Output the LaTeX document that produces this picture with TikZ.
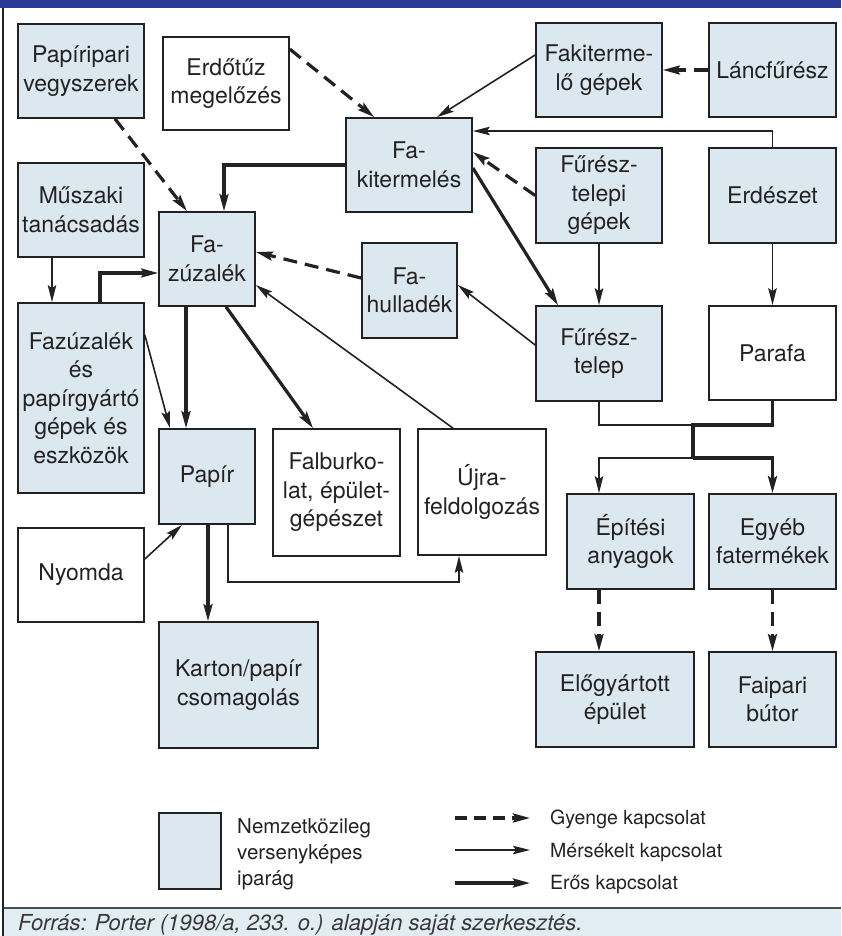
\documentclass[tikz,border=0pt]{standalone}
\usepackage{fontspec}
\setmainfont{TeX Gyre Heros}
\usetikzlibrary{arrows.meta,calc}
\definecolor{boxblue}{HTML}{DCE8EF}
\definecolor{band}{HTML}{2B3A97}
\definecolor{ink}{HTML}{222222}
\definecolor{foot}{HTML}{E2EDF3}
\tikzset{
 bx/.style={draw=ink, line width=1.7pt, fill=boxblue, align=center, inner sep=0pt, text=ink, font=\fontsize{23}{28.5}\selectfont},
 wbx/.style={bx, fill=white},
 nl/.style={draw=ink, line width=1.6pt},
 tkn/.style={draw=ink, line width=3.2pt},
 ln/.style={nl, -{Stealth[length=17pt,width=8.5pt,inset=3pt]}},
 tk/.style={tkn, -{Stealth[length=17pt,width=9pt,inset=3pt]}},
 dsh/.style={tk, dash pattern=on 14pt off 8pt},
 lab/.style={text=ink, inner sep=0pt, font=\fontsize{19.5}{26}\selectfont},
}
\begin{document}
\begin{tikzpicture}[x=1pt,y=-1pt]
\useasboundingbox (0,0) rectangle (841,936);
% frame, band, footer
\fill[band] (0,0) rectangle (841,8.5);
\fill[foot] (3,908) rectangle (841,936);
\draw[ink!80, line width=1.4pt] (3,908) -- (841,908);
\draw[ink, line width=1.7pt] (3,8.5) -- (3,936);
\node[lab, anchor=base west, text=ink!90, font=\fontsize{22}{26}\itshape] (src) at (18,930) {Forrás: Porter (1998/a, 233. o.) alapján saját szerkesztés.};
% boxes
\node[bx, minimum width=126pt, minimum height=94pt] (pv) at (81,71) {Papíripari\\vegyszerek};
\node[wbx, minimum width=126pt, minimum height=93pt] (ef) at (226,83.5) {Erdőtűz\\megelőzés};
\node[bx, minimum width=126pt, minimum height=94pt] (fk) at (409,165) {Fa-\\kitermelés};
\node[bx, minimum width=126pt, minimum height=94pt] (fg) at (599,70) {Fakiterme-\\lő gépek};
\node[bx, minimum width=127pt, minimum height=94pt] (lf) at (772.5,70) {Láncfűrész};
\node[bx, minimum width=126pt, minimum height=94pt] (mt) at (81,210) {Műszaki\\tanácsadás};
\node[bx, minimum width=96pt, minimum height=94pt] (fz) at (207,259) {Fa-\\zúzalék};
\node[bx, minimum width=95pt, minimum height=95pt] (fh) at (409.5,290.5) {Fa-\\hulladék};
\node[bx, minimum width=126pt, minimum height=95pt] (ftg) at (599,195.5) {Fűrész-\\telepi\\gépek};
\node[bx, minimum width=127pt, minimum height=95pt] (er) at (772.5,195.5) {Erdészet};
\node[bx, minimum width=126pt, minimum height=190pt] (zpg) at (81,398) {Fazúzalék\\és\\papírgyártó\\gépek és\\eszközök};
\node[bx, minimum width=126pt, minimum height=95pt] (fts) at (599,353.5) {Fűrész-\\telep};
\node[wbx, minimum width=127pt, minimum height=94pt] (pa) at (772.5,353) {Parafa};
\node[bx, minimum width=96pt, minimum height=95pt] (pp) at (207,476.5) {Papír};
\node[wbx, minimum width=127pt, minimum height=127pt] (fb) at (336.5,492.5) {Falburko-\\lat, épület-\\gépészet};
\node[wbx, minimum width=128pt, minimum height=126pt] (uj) at (482,492) {Újra-\\feldolgozás};
\node[wbx, minimum width=126pt, minimum height=94pt] (ny) at (81,575) {Nyomda};
\node[bx, minimum width=127pt, minimum height=95pt] (ea) at (630.5,541.5) {Építési\\anyagok};
\node[bx, minimum width=127pt, minimum height=95pt] (eg) at (772.5,541.5) {Egyéb\\fatermékek};
\node[bx, minimum width=159pt, minimum height=126pt] (kc) at (238.5,685) {Karton/papír\\csomagolás};
\node[bx, minimum width=158pt, minimum height=95pt] (eo) at (615,699.5) {Előgyártott\\épület};
\node[bx, minimum width=127pt, minimum height=95pt] (fbu) at (772.5,699.5) {Faipari\\bútor};
% connectors
\draw[dsh] ($(ef.north east)+(0,13)$) -- ($(fk.north west)+(29,0)$);
\draw[dsh] ($(pv.south)+(34,0)$) -- ($(fz.north)+(-20,0)$);
\draw[tk] (fk.west) -| ($(fz.north)+(17,0)$);
\draw[dsh] ($(fh.west)+(0,-12.5)$) -- ($(fz.east)+(0,-7)$);
\draw[ln] ($(uj.north)+(-29,0)$) -- ($(fz.east)+(0,26)$);
\draw[ln] ($(fts.west)+(0,-8.5)$) -- ($(fh.east)+(0,-5.5)$);
\draw[ln] ($(fg.west)+(0,-15)$) -- ($(fk.north)+(28,0)$);
\draw[dsh] (lf.west) -- (fg.east);
\draw[ln] (er.north) |- ($(fk.east)+(0,-34)$);
\draw[dsh] (ftg.west) -- ($(fk.east)+(0,-13)$);
\draw[tk] ($(fk.east)+(0,3)$) -- ($(fts.north)+(-41,0)$);
\draw[ln] (ftg.south) -- (fts.north);
\draw[ln] (er.south) -- (pa.north);
\coordinate (j1) at (693,425);
\coordinate (j2) at (693,458);
\draw[nl] (fts.south) |- (j1);
\draw[tkn] (pa.south) |- (j1) -- (j2);
\draw[ln] (j2) -| (fts.south |- ea.north);
\draw[tk] (j2) -| (eg.north);
\draw[dsh] (ea.south -| fts.south) -- (eo.north -| fts.south);
\draw[dsh] (eg.south) -- (fbu.north);
\draw[tk] ($(fz.south)+(-21,0)$) -- ($(pp.north)+(-21,0)$);
\draw[tk] ($(fz.south)+(19,0)$) -- ($(fb.north)+(-23.5,0)$);
\draw[ln] ($(zpg.east)+(0,-63)$) -- ($(pp.north)+(-37,0)$);
\draw[tk] ($(zpg.north)+(19,0)$) |- ($(fz.west)+(0,14)$);
\draw[ln] ($(mt.south)+(-29,0)$) -- ($(zpg.north)+(-29,0)$);
\draw[ln] ($(ny.east)+(0,-16)$) -- ($(pp.south)+(-25,0)$);
\coordinate (a23) at ($(pp.south)+(1,0)$);
\draw[tk] (a23) -- (a23 |- kc.north);
\coordinate (a24) at ($(pp.south)+(21,0)$);
\coordinate (rr) at (459,582);
\draw[ln] (a24) |- (rr) -- ($(uj.south)+(-23,0)$);
% legend
\node[bx, minimum width=62pt, minimum height=76pt] (lg) at (190,851) {};
\node[lab, anchor=west, align=left, font=\fontsize{20.5}{26}\selectfont] (lgt) at (237,854) {Nemzetközileg\\versenyképes\\iparág};
\coordinate (g1) at (455,818); \coordinate (g1e) at (530,818);
\coordinate (g2) at (455,850); \coordinate (g2e) at (530,850);
\coordinate (g3) at (455,883); \coordinate (g3e) at (530,883);
\draw[dsh, dash pattern=on 12pt off 7pt] (g1) -- (g1e);
\draw[ln] (g2) -- (g2e);
\draw[tk] (g3) -- (g3e);
\node[lab, anchor=base west] (t1) at (550,824) {Gyenge kapcsolat};
\node[lab, anchor=base west] (t2) at (550,857) {Mérsékelt kapcsolat};
\node[lab, anchor=base west] (t3) at (550,889) {Erős kapcsolat};
\end{tikzpicture}
\end{document}
